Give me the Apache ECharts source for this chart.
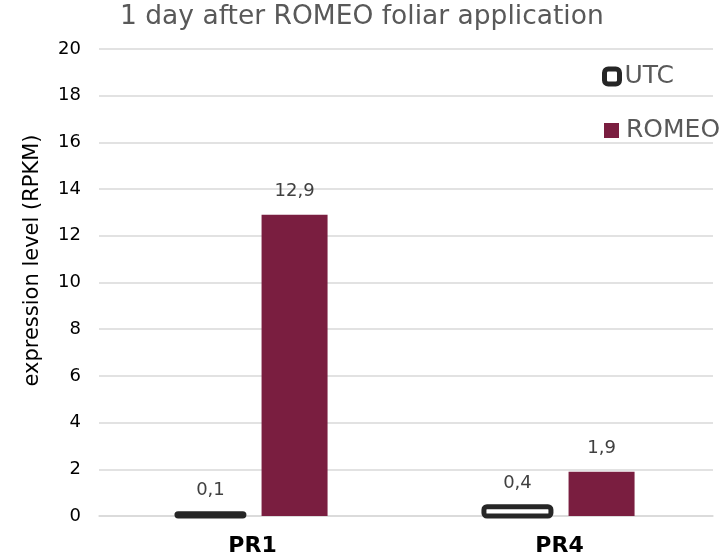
<!DOCTYPE html>
<html>
<head>
<meta charset="utf-8">
<script src="https://cdn.jsdelivr.net/npm/echarts@6/dist/echarts.min.js"></script>
<style>html,body{margin:0;padding:0;background:#fff}#main{width:721px;height:560px}</style>
</head>
<body>
<div id="main"></div>
<script>
var categories = ['PR1', 'PR4'];
var utcValues = [0.1, 0.4];
var romeoValues = [12.9, 1.9];
var yTicks = [0, 20, 2];

var font = 'DejaVu Sans';

// bars drawn like Excel: outline centred on the bar edge
function barRenderer(side, width, style, labelGap) {
    return function (params, api) {
        var cat = api.value(0);
        var top = api.coord([cat, api.value(1)]);
        var base = api.coord([cat, 0]);
        var band = api.size([1, 0])[0];
        var cx = base[0] + side * band * 0.137;
        return {
            type: 'rect',
            shape: { x: cx - width / 2, y: top[1], width: width, height: base[1] - top[1], r: style.r || 0 },
            style: { fill: style.fill, stroke: style.stroke || null, lineWidth: style.lineWidth || 0 },
            textContent: {
                style: {
                    text: String(api.value(1)).replace('.', ','),
                    fontFamily: font, fontSize: 18, fill: '#404040'
                }
            },
            textConfig: { position: 'top', distance: labelGap }
        };
    };
}

var myChart = echarts.init(document.getElementById('main'));
myChart.setOption({
    animation: false,
    title: {
        text: '1 day after ROMEO foliar application',
        left: 120, top: 4, padding: 0,
        textStyle: { fontFamily: font, fontSize: 26.5, fontWeight: 'normal', color: '#595959' }
    },
    legend: [
        {
            left: 597, top: 59, itemWidth: 15, itemHeight: 15,
            icon: 'roundRect',
            itemStyle: { color: '#fff', borderColor: '#262626', borderWidth: 5 },
            textStyle: { fontFamily: font, fontSize: 25, color: '#595959' },
            data: ['UTC']
        },
        {
            left: 599, top: 113, itemWidth: 15, itemHeight: 15,
            icon: 'rect',
            itemStyle: { color: '#7a1e40' },
            textStyle: { fontFamily: font, fontSize: 25, color: '#595959', padding: [0, 0, 0, 2] },
            data: ['ROMEO']
        }
    ],
    grid: { left: 99, right: 8, top: 49, bottom: 44 },
    xAxis: {
        type: 'category',
        data: categories,
        axisLine: { lineStyle: { color: '#d9d9d9', width: 1.5 } },
        axisTick: { show: false },
        axisLabel: { fontFamily: font, fontSize: 22, fontWeight: 'bold', color: '#000', margin: 19 }
    },
    yAxis: {
        type: 'value', min: yTicks[0], max: yTicks[1], interval: yTicks[2],
        name: 'expression level (RPKM)', nameLocation: 'middle', nameGap: 56,
        nameTextStyle: { fontFamily: font, fontSize: 21, color: '#000', padding: [0, 0, 0, 44] },
        axisLabel: { fontFamily: font, fontSize: 18, color: '#000', margin: 18 },
        splitLine: { lineStyle: { color: '#d9d9d9', width: 1.5 } }
    },
    series: [
        {
            name: 'UTC', type: 'custom',
            data: utcValues.map(function (v, i) { return [i, v]; }),
            encode: { x: 0, y: 1 },
            itemStyle: { color: '#fff', borderColor: '#262626' },
            renderItem: barRenderer(-1, 67, { fill: '#fff', stroke: '#262626', lineWidth: 5, r: 3 }, 12)
        },
        {
            name: 'ROMEO', type: 'custom',
            data: romeoValues.map(function (v, i) { return [i, v]; }),
            encode: { x: 0, y: 1 },
            itemStyle: { color: '#7a1e40' },
            renderItem: barRenderer(1, 66, { fill: '#7a1e40' }, 14)
        }
    ]
});
</script>
</body>
</html>
